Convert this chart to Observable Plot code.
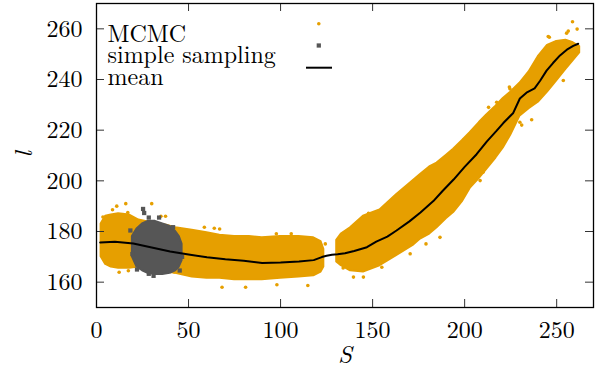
<!DOCTYPE html>
<html>
<head>
<meta charset="utf-8">
<script src="https://cdn.jsdelivr.net/npm/d3@7"></script>
<script src="https://cdn.jsdelivr.net/npm/@observablehq/plot@0.6"></script>
<style>
  html, body { margin: 0; padding: 0; background: #fff; }
  #chart { width: 603px; height: 379px; }
</style>
</head>
<body>
<div id="chart"></div>
<script>
// ---- Data ----
// MCMC point cloud, first cluster: S, lower and upper envelope of l
const mcmcAS  = [2.5, 5, 8, 12, 18, 23, 30, 38, 43, 52, 60, 67, 75, 83, 90, 100, 110, 118, 122, 123.5];
const mcmcALo = [170, 167, 166, 165.5, 165.5, 166, 165, 164, 163.5, 162, 161.5, 161.5, 161, 161, 161, 161.5, 162, 162.5, 164, 166];
const mcmcAHi = [183, 186, 186.5, 187, 186.5, 184.5, 183.5, 182.5, 181.5, 180.5, 179.5, 178.5, 178, 178, 177.5, 178, 178, 177.5, 176, 173];
// MCMC point cloud, second cluster
const mcmcBS  = [130.5, 133, 138, 145, 154, 163, 172, 176, 181, 185, 190, 194, 199, 203, 208, 212, 217, 221, 225, 230, 235, 240, 245, 250, 255, 259, 262.5];
const mcmcBLo = [168, 166.5, 164.5, 164, 166.5, 170.5, 174.5, 177, 179, 181.5, 185, 187.5, 192, 197, 201, 204.5, 209, 213, 218, 225.5, 228.5, 231, 235, 239.5, 244, 247.5, 250.5];
const mcmcBHi = [176.5, 179, 181.5, 186, 188.5, 194.5, 200, 202.5, 205.5, 207, 210, 212.5, 216, 219, 223, 226, 229.5, 232.5, 235, 238.5, 243, 249, 253.5, 255, 255.5, 254.5, 253];
// MCMC isolated points (S, l)
const mcmcOutS = [3.5, 8.7, 11, 15.9, 17, 30, 35, 37.5, 4.2, 12.3, 17.3, 42.3, 58.6, 64, 66.9, 68.2, 81, 98, 114.8, 97.7, 105.8, 124.3, 134.2, 134, 139.6, 145, 155, 147.8, 170.4, 179, 186.6, 208.4, 210, 199.3, 213, 217.4, 224.3, 224.6, 230, 231, 236.4, 253.6, 245.4, 255.4, 258.6, 261.1, 256.3, 246, 183];
const mcmcOutL = [185.7, 188.6, 190, 191, 187.5, 191, 186, 186, 168.9, 163.9, 164.5, 164, 181.7, 181.3, 181, 158, 158, 159, 158.7, 179.1, 179.1, 175.1, 177.1, 165.6, 162, 162, 165.9, 187.2, 171.2, 175.1, 177.7, 200.1, 203.4, 216, 229, 231, 237, 236.3, 223.1, 222, 224.1, 239.6, 257, 258.3, 262.8, 259.9, 259.1, 256.7, 205.8];
// simple sampling cloud: S, lower and upper envelope of l
const simpS  = [19.5, 22, 25, 28, 32, 36, 40, 43, 45, 46.5];
const simpLo = [170, 166, 164.5, 163.5, 163, 163, 163.5, 164.5, 166, 168.5];
const simpHi = [178, 181, 183, 184, 184, 183, 182, 180, 178, 175];
// simple sampling isolated points
const simpOutS = [25.3, 25.9, 28.4, 18.4, 19.5, 28.4, 31, 45.2, 41.6, 34, 46.5, 22, 20.5];
const simpOutL = [188.9, 187.3, 185.5, 180.4, 171.1, 163.3, 162.5, 164.6, 181.7, 185.5, 170, 165, 176];
// mean curve
const meanS = [2, 10, 20, 30, 40, 50, 60, 70, 80, 90, 100, 110, 118, 122.4, 125, 127.9, 131, 135, 140, 146.9, 152, 158, 163, 170, 176, 183, 188, 194, 200, 206.5, 212, 217.4, 221, 226.4, 230, 233.6, 238, 241, 244.5, 248, 251.8, 256, 259, 261.7];
const meanL = [175.7, 176.0, 175.3, 173.7, 172.1, 170.9, 169.8, 169, 168.5, 167.6, 167.8, 168.2, 168.7, 169.9, 170.4, 170.8, 171.0, 171.4, 172.3, 173.8, 176, 178, 180.4, 184, 187.5, 192, 196, 200.5, 205.5, 210.5, 215.5, 219.8, 222.8, 226.8, 232.5, 234.8, 236.5, 239.5, 243.5, 246.5, 249.5, 252, 253.3, 254.1];
// ticks and legend
const xTicks = [0, 50, 100, 150, 200, 250];
const yTicks = [160, 180, 200, 220, 240, 260];
const legendLabels = ["MCMC", "simple sampling", "mean"];

// ---- build tables ----
const band = (S, lo, hi) => S.map((s, i) => ({S: s, lo: lo[i], hi: hi[i]}));
const pts = (S, L) => S.map((s, i) => ({S: s, l: L[i]}));
const bandA = band(mcmcAS, mcmcALo, mcmcAHi);
const bandB = band(mcmcBS, mcmcBLo, mcmcBHi);
const bandS = band(simpS, simpLo, simpHi);
const mcmcOut = pts(mcmcOutS, mcmcOutL);
const simpOut = pts(simpOutS, simpOutL);
const meanData = pts(meanS, meanL);

const ORANGE = "#e69f00";
const GREY = "#565656";
const FONT = "Latin Modern Roman, Liberation Serif, serif";

const xDomain = [0, 270];
const yDomain = [150, 270];
const innerW = 603 - 96 - 10;
const innerH = 379 - 3 - 72;
const tickLen = 8;
// tick length expressed in data units of each scale
const tx = tickLen * (xDomain[1] - xDomain[0]) / innerW;
const ty = tickLen * (yDomain[1] - yDomain[0]) / innerH;
const TICK = "#333";

const marks = [
  Plot.areaY(bandA, {x: "S", y1: "lo", y2: "hi", fill: ORANGE, stroke: ORANGE, strokeWidth: 2, strokeLinejoin: "round"}),
  Plot.areaY(bandB, {x: "S", y1: "lo", y2: "hi", fill: ORANGE, stroke: ORANGE, strokeWidth: 2, strokeLinejoin: "round"}),
  Plot.dot(mcmcOut, {x: "S", y: "l", r: 1.8, fill: ORANGE}),
  Plot.areaY(bandS, {x: "S", y1: "lo", y2: "hi", fill: GREY, stroke: GREY, strokeWidth: 2, strokeLinejoin: "round"}),
  Plot.dot(simpOut, {x: "S", y: "l", r: 2.4, symbol: "square", fill: GREY}),
  Plot.line(meanData, {x: "S", y: "l", stroke: "black", strokeWidth: 2}),
  // inward ticks on all four sides
  Plot.ruleX(xTicks, {x: d => d, y1: yDomain[0], y2: yDomain[0] + ty, stroke: TICK, strokeWidth: 1}),
  Plot.ruleX(xTicks, {x: d => d, y1: yDomain[1], y2: yDomain[1] - ty, stroke: TICK, strokeWidth: 1}),
  Plot.ruleY(yTicks, {y: d => d, x1: xDomain[0], x2: xDomain[0] + tx, stroke: TICK, strokeWidth: 1}),
  Plot.ruleY(yTicks, {y: d => d, x1: xDomain[1], x2: xDomain[1] - tx, stroke: TICK, strokeWidth: 1}),
  Plot.frame({stroke: "black", strokeWidth: 1.3}),
  Plot.axisX({ticks: xTicks, tickSize: 0, tickPadding: 13, label: null, fontSize: 24, fontFamily: FONT}),
  Plot.axisY({ticks: yTicks, tickSize: 0, tickPadding: 14, label: null, fontSize: 24, fontFamily: FONT}),
  Plot.text(["S"], {text: d => d, frameAnchor: "bottom", dy: 55, fontSize: 25, fontStyle: "italic", fontFamily: FONT}),
  Plot.text(["l"], {text: d => d, frameAnchor: "left", dx: -73, dy: 2, rotate: -90, fontSize: 25, fontStyle: "italic", fontFamily: FONT}),
  // legend
  ...legendLabels.map((t, i) => Plot.text([t], {text: d => d, frameAnchor: "top-left", textAnchor: "start", dx: 11, dy: 21 + i * 21.7, fontSize: 24, fontFamily: FONT})),
  Plot.dot([0], {frameAnchor: "top-left", dx: 222.3, dy: 20.3, r: 1.8, fill: ORANGE}),
  Plot.dot([0], {frameAnchor: "top-left", dx: 222.3, dy: 42, r: 2.4, symbol: "square", fill: GREY})
];

const chart = Plot.plot({
  width: 603,
  height: 379,
  marginLeft: 96,
  marginRight: 10,
  marginTop: 3,
  marginBottom: 72,
  x: {domain: xDomain},
  y: {domain: yDomain},
  style: {fontFamily: FONT, fontSize: "24px", background: "white", color: "black", overflow: "visible"},
  marks
});

// legend line sample for "mean"
d3.select(chart).append("line")
  .attr("x1", 306).attr("x2", 332).attr("y1", 67.7).attr("y2", 67.7)
  .attr("stroke", "black").attr("stroke-width", 2);

document.getElementById("chart").appendChild(chart);
</script>
</body>
</html>
